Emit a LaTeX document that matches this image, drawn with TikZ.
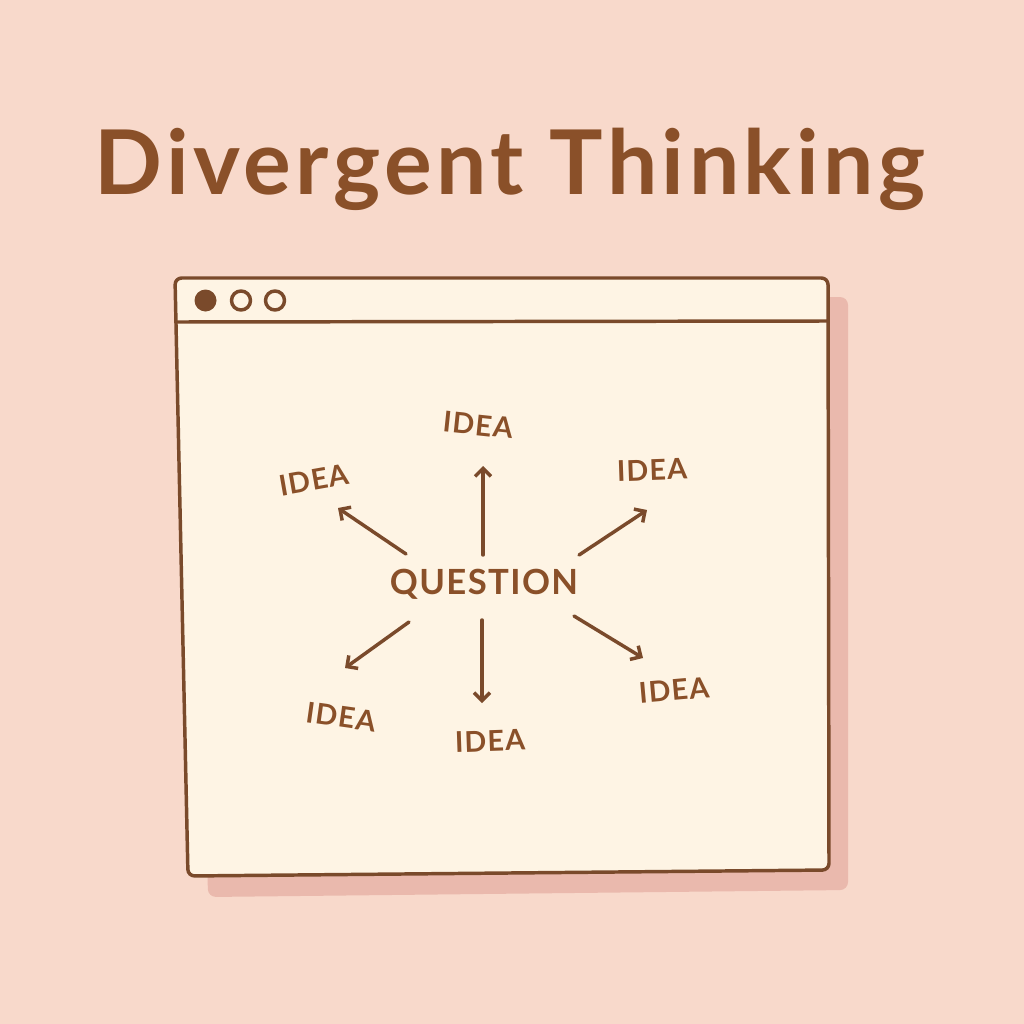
\documentclass[tikz,border=0pt]{standalone}
\usepackage{fontspec}
\setmainfont{Lato}
\usetikzlibrary{arrows.meta}

\definecolor{peach}{HTML}{F8D9CB}
\definecolor{paper}{HTML}{FEF4E4}
\definecolor{rosy}{HTML}{EAB9AD}
\definecolor{brown}{HTML}{7A4A2B}
\definecolor{ink}{HTML}{8A5029}

\tikzset{
  idea/.style={font=\bfseries\fontsize{21.5}{21.5}\selectfont\addfontfeatures{LetterSpace=4}, text=ink, inner sep=0.75pt},
  ray/.style={draw=brown, line width=2.6pt, line cap=round, -{Straight Barb[length=6pt,width=12pt,line width=2.6pt]}},
  frame/.style={draw=brown, line width=2.6pt, line join=round}
}

\begin{document}
\begin{tikzpicture}[x=0.75pt,y=0.75pt,yscale=-1,xscale=1]
	\fill[peach] (0,0) rectangle (1024,1024);
	\useasboundingbox (0,0) rectangle (1024,1024);
	% window and its shadow
	\fill[rosy, rounded corners=6pt] (195,297) -- (848,297) -- (848,890) -- (208,897) -- cycle;
	\draw[frame, fill=paper, rounded corners=5pt] (175,278) -- (828,278) -- (829,870) -- (188,876) -- cycle;
	\draw[frame] (176,322) -- (828,321);
	\fill[brown] (205.5,300.5) circle (11);
	\draw[frame] (241,300.5) circle (9.5) (275,300.5) circle (9.5);
	% title
	\node[font=\bfseries\fontsize{67}{67}\selectfont\addfontfeatures{LetterSpace=5}, text=ink, inner sep=0pt] (title) at (510,169) {Divergent Thinking};
	% question and ideas
	\node[font=\bfseries\fontsize{26}{26}\selectfont\addfontfeatures{LetterSpace=4}, text=ink, inner sep=0.75pt] (q) at (484,584) {QUESTION};
	\node[idea, rotate=-6] (up) at (478,425) {IDEA};
	\node[idea, rotate=10] (upl) at (314,480) {IDEA};
	\node[idea, rotate=2] (upr) at (652,470) {IDEA};
	\node[idea, rotate=-8] (dnl) at (341,717) {IDEA};
	\node[idea, rotate=2] (dn) at (490,741) {IDEA};
	\node[idea, rotate=5] (dnr) at (674,690) {IDEA};
	% arrow ends
	\coordinate (a1) at (483,555); \coordinate (b1) at (483,466);
	\coordinate (a2) at (406,554); \coordinate (b2) at (338,508);
	\coordinate (a3) at (579,555); \coordinate (b3) at (647,510);
	\coordinate (a4) at (574,616); \coordinate (b4) at (643,658);
	\coordinate (a5) at (482,620); \coordinate (b5) at (482,703);
	\coordinate (a6) at (409,622); \coordinate (b6) at (345,668);
	\foreach \i in {1,...,6}
		\draw[ray] (a\i) -- (b\i);
\end{tikzpicture}
\end{document}
